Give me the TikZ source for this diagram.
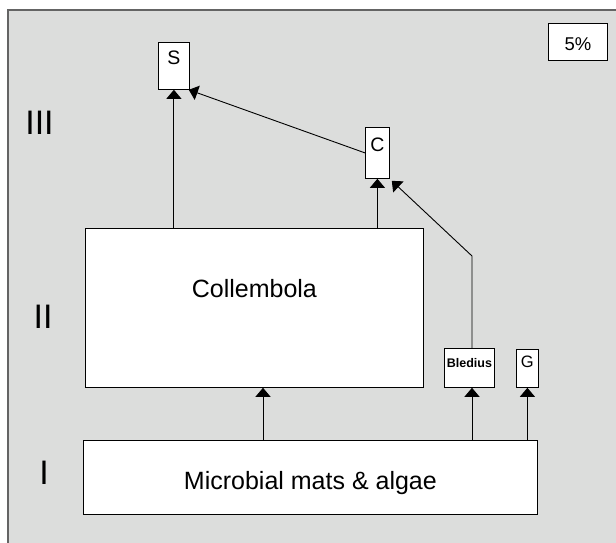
\documentclass[tikz,border=0pt]{standalone}
\usepackage{fontspec}
\setmainfont{Liberation Sans}
\usetikzlibrary{arrows.meta}
\definecolor{bggray}{RGB}{220,221,220}
\definecolor{framecol}{RGB}{100,100,100}
\tikzset{
  box/.style={draw=black, fill=white, line width=0.8pt, inner sep=0pt, anchor=north west},
  txt/.style={inner sep=0pt, anchor=base},
  arr/.style={line width=0.9pt, -{Triangle[width=15pt,length=9pt]}},
  roman/.style={font=\fontsize{34}{36}\selectfont, inner sep=0pt, anchor=base}
}
\begin{document}
\begin{tikzpicture}[x=1pt,y=-1pt]
\useasboundingbox (0,0) rectangle (616,542);
\fill[bggray] (8,10) rectangle (630,560);
\draw[framecol, line width=1.2pt] (8,560) -- (8,10) -- (630,10);

% boxes
\node[box, minimum width=59, minimum height=37,
  label={[txt, font=\fontsize{18.5}{22}\selectfont, yshift=-27pt]north:5\%}] (pc) at (548,23) {};
\node[box, minimum width=31, minimum height=47,
  label={[txt, font=\fontsize{19.5}{23}\selectfont, yshift=-22pt]north:S}] (S) at (158,42) {};
\node[box, minimum width=24, minimum height=51,
  label={[txt, font=\fontsize{19.5}{23}\selectfont, yshift=-24pt]north:C}] (C) at (365,127) {};
\node[box, minimum width=338, minimum height=159,
  label={[txt, font=\fontsize{25}{30}\selectfont, yshift=-69pt]north:Collembola}] (Coll) at (85,228) {};
\node[box, minimum width=50, minimum height=39,
  label={[txt, font=\bfseries\fontsize{12.5}{15}\selectfont, yshift=-19pt]north:Bledius}] (Bled) at (444,348) {};
\node[box, minimum width=22, minimum height=38,
  label={[txt, font=\fontsize{16.5}{19}\selectfont, yshift=-18pt]north:G}] (G) at (516,349) {};
\node[box, minimum width=454, minimum height=74,
  label={[txt, font=\fontsize{25}{30}\selectfont, yshift=-49pt]north:Microbial mats \& algae}] (Mic) at (83,440) {};

% level labels
\node[roman] (L3) at (39.5,134) {III};
\node[roman] (L2) at (43,328) {II};
\node[roman] (L1) at (44,484) {I};

% helper coordinates
\coordinate (m1) at (263,0);
\coordinate (b1) at (472,0);
\coordinate (bend) at (472,256);

% connectors
\draw[arr] (S.south |- Coll.north) -- (S.south);
\draw[arr] (C.south |- Coll.north) -- (C.south);
\draw[arr] (C.west) -- ([xshift=-1pt]S.south east);
\draw[arr] (b1 |- Bled.north) -- (bend) -- ([xshift=2pt,yshift=-2pt]C.south east);
\draw[arr] (m1 |- Mic.north) -- (m1 |- Coll.south);
\draw[arr] (b1 |- Mic.north) -- (b1 |- Bled.south);
\draw[arr] (G.south |- Mic.north) -- (G.south);
\end{tikzpicture}
\end{document}
